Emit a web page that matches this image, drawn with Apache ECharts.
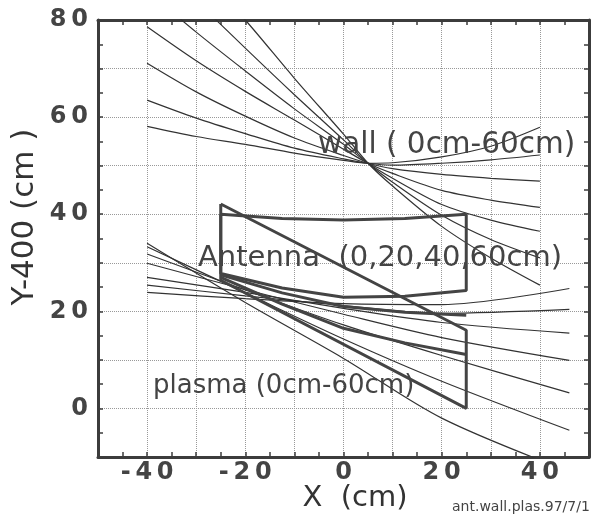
<!DOCTYPE html>
<html>
<head>
<meta charset="utf-8">
<script src="https://cdn.jsdelivr.net/npm/echarts@6/dist/echarts.min.js"></script>
<style>
  html, body { margin: 0; padding: 0; background: #fff; }
  #chart { width: 592px; height: 518px; }
</style>
</head>
<body>
<div id="chart"></div>
<script>
// wall field lines (0cm-60cm), sampled at wallX
var wallX = [-40, -30, -20, -10, 0, 5, 10, 20, 30, 40];
var wall0 = [58.1, 56.0, 54.4, 52.6, 51.1, 50.5, 50.6, 51.8, 54.0, 57.9];
var wall1 = [63.5, 59.8, 56.6, 53.6, 51.4, 50.5, 50.1, 50.5, 51.2, 52.2];
var wall2 = [71.1, 65.2, 60.2, 55.7, 52.1, 50.5, 49.4, 48.2, 47.4, 46.8];
var wall3 = [78.6, 71.6, 65.3, 59.4, 53.4, 50.5, 48.4, 44.9, 42.9, 41.4];
var wall4 = [86.0, 77.5, 69.5, 61.7, 54.4, 50.5, 47.4, 42.0, 38.8, 36.5];
var wall5 = [94.0, 84.0, 74.2, 64.6, 55.3, 50.5, 46.6, 39.8, 34.8, 31.0];
var wall6 = [102.0, 91.0, 80.0, 68.0, 56.5, 50.5, 45.8, 37.5, 31.0, 25.4];

// plasma field lines (0cm-60cm), sampled at plasmaX
var plasmaX = [-40, -20, 0, 20, 46];
var plasma0 = [34.0, 21.8, 10.3, -2.0, -13.0];
var plasma1 = [33.3, 23.8, 14.3, 5.6, -4.5];
var plasma2 = [31.8, 24.4, 17.2, 10.9, 3.2];
var plasma3 = [29.9, 24.5, 19.4, 14.6, 9.9];
var plasma4 = [27.0, 23.9, 20.6, 17.7, 15.5];
var plasma5 = [25.4, 23.2, 21.2, 19.6, 20.4];
var plasma6 = [23.9, 22.6, 21.6, 21.4, 24.7];

// antenna outlines (0,20,40,60cm)
var ant0X = [-25, -12.5, 0, 12.5, 25, 25, 12.5, 0, -12.5, -25, -25];
var ant0Y = [40, 39.1, 38.8, 39.1, 40, 24.3, 23.1, 22.9, 24.8, 27.8, 40];
var ant20X = [-25, -12.5, 0, 12.5, 25];
var ant20Y = [27.5, 23.8, 21.0, 19.8, 19.2];
var ant40X = [-25, -12.5, 0, 12.5, 25];
var ant40Y = [27.0, 21.5, 16.5, 13.5, 11.1];
var ant60X = [-25, 25, 25, -25, -25];
var ant60Y = [42.1, 16.1, 0, 26.4, 42.1];

var xTicks = [-40, -20, 0, 20, 40];
var yTicks = [0, 20, 40, 60, 80];

function pairs(xs, ys){
  return xs.map(function(x, i){ return [x, ys[i]]; });
}

function thin(xs, ys){
  return {
    type: 'line', data: pairs(xs, ys), showSymbol: false, clip: true,
    smooth: 0.3, silent: true,
    lineStyle: { color: '#333', width: 1.2 }
  };
}
function thick(xs, ys){
  return {
    type: 'line', data: pairs(xs, ys), showSymbol: false, clip: true,
    silent: true,
    lineStyle: { color: '#444', width: 3 }
  };
}

function spaced(list){
  return function(v){
    if (list.indexOf(v) < 0) return '';
    return String(v).split('').join('\u2009');
  };
}

var lineColor = '#3c3c3c';
var labelStyle = {
  fontFamily: 'DejaVu Sans', fontWeight: 'bold', fontSize: 24, color: '#444'
};

function frameAxis(pos, min, max, showLabel, list, splitShow){
  return {
    type: 'value', position: pos, min: min, max: max, interval: 10,
    axisLine: { show: true, onZero: false, lineStyle: { color: lineColor, width: 3 } },
    axisTick: { show: true, inside: true, length: 5, lineStyle: { color: lineColor, width: 1.5 } },
    minorTick: { show: true, splitNumber: 2, length: 5, lineStyle: { color: lineColor, width: 1.5 } },
    splitLine: { show: splitShow, lineStyle: { color: '#999', type: 'dotted', width: 1 } },
    axisLabel: Object.assign({ show: showLabel, margin: pos === 'left' ? 10 : 4, formatter: spaced(list) }, labelStyle)
  };
}

var option = {
  animation: false,
  backgroundColor: '#fff',
  grid: { left: 98, right: 3, top: 20, bottom: 61 },
  xAxis: [
    frameAxis('bottom', -50, 50, true, xTicks, true),
    frameAxis('top', -50, 50, false, xTicks, false)
  ],
  yAxis: [
    frameAxis('left', -10, 80, true, yTicks, true),
    frameAxis('right', -10, 80, false, yTicks, false)
  ],
  series: [
    thin(wallX, wall0), thin(wallX, wall1), thin(wallX, wall2), thin(wallX, wall3),
    thin(wallX, wall4), thin(wallX, wall5), thin(wallX, wall6),
    thin(plasmaX, plasma0), thin(plasmaX, plasma1), thin(plasmaX, plasma2), thin(plasmaX, plasma3),
    thin(plasmaX, plasma4), thin(plasmaX, plasma5), thin(plasmaX, plasma6),
    thick(ant0X, ant0Y), thick(ant20X, ant20Y), thick(ant40X, ant40Y), thick(ant60X, ant60Y)
  ],
  graphic: [
    { type: 'text', x: 318, y: 145, z: 10,
      style: { text: 'wall ( 0cm-60cm)', fontFamily: 'DejaVu Sans', fontSize: 29.5, fill: '#444', align: 'left', verticalAlign: 'middle' } },
    { type: 'text', x: 198, y: 258, z: 10,
      style: { text: 'Antenna  (0,20,40,60cm)', fontFamily: 'DejaVu Sans', fontSize: 29, fill: '#444', align: 'left', verticalAlign: 'middle' } },
    { type: 'text', x: 153, y: 386, z: 10,
      style: { text: 'plasma (0cm-60cm)', fontFamily: 'DejaVu Sans', fontSize: 26, fill: '#444', align: 'left', verticalAlign: 'middle' } },
    { type: 'text', x: 355, y: 498, z: 10,
      style: { text: 'X  (cm)', fontFamily: 'DejaVu Sans', fontSize: 29, fill: '#333', align: 'center', verticalAlign: 'middle' } },
    { type: 'text', x: 25, y: 217, rotation: Math.PI / 2, z: 10,
      style: { text: 'Y-400 (cm )', fontFamily: 'DejaVu Sans', fontSize: 31, fill: '#333', align: 'center', verticalAlign: 'middle' } },
    { type: 'text', x: 452, y: 507, z: 10,
      style: { text: 'ant.wall.plas.97/7/1', fontFamily: 'DejaVu Sans', fontSize: 14, fill: '#444', align: 'left', verticalAlign: 'middle' } }
  ]
};

var myChart = echarts.init(document.getElementById('chart'));
myChart.setOption(option);
window.addEventListener('resize', function(){
  myChart.resize();
});
</script>
</body>
</html>
